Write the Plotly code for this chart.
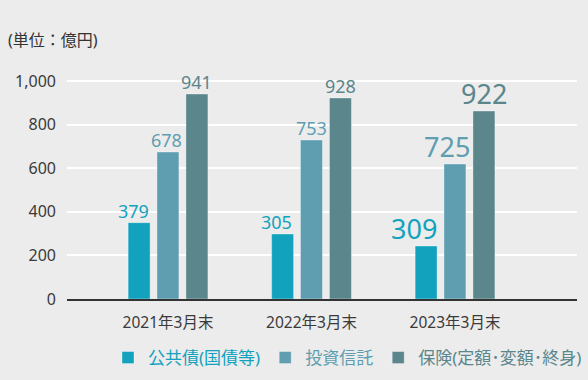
import plotly.graph_objects as go

categories = ["2021年3月末", "2022年3月末", "2023年3月末"]
series_names = ["公共債(国債等)", "投資信託", "保険(定額･変額･終身)"]
# bar heights as drawn in the picture (億円)
bonds_heights = [350, 298, 243]
funds_heights = [674, 729, 619]
insurance_heights = [940, 922, 862]
# value labels as printed
bonds_labels = ["379", "305", "309"]
funds_labels = ["678", "753", "725"]
insurance_labels = ["941", "928", "922"]
y_tick_vals = [0, 200, 400, 600, 800, 1000]
y_tick_text = ["0", "200", "400", "600", "800", "1,000"]

colors = ["#12A2BE", "#5F9EB0", "#5A868C"]
label_sizes = [18, 18, 27]
label_xshift = [[-6, -6, -12], [-1, 0, -8], [0, 0, 0]]
FONT = "Noto Sans, Noto Sans CJK JP, sans-serif"

x_pos = list(range(len(categories)))
heights = [bonds_heights, funds_heights, insurance_heights]
labels = [bonds_labels, funds_labels, insurance_labels]
offsets = [-0.278, -0.077, 0.125]
bar_w = 0.153

fig = go.Figure()
for i in range(3):
    fig.add_trace(go.Bar(
        x=x_pos, y=heights[i], name=f"<span style='color:{colors[i]}'>{series_names[i]}</span>",
        marker=dict(color=colors[i], line=dict(color="rgba(255,255,255,0.35)", width=1)),
        width=bar_w, offset=offsets[i], hoverinfo="skip",
    ))
    for j in x_pos:
        fig.add_annotation(
            x=x_pos[j] + offsets[i] + bar_w / 2, y=heights[i][j], text=labels[i][j],
            xref="x", yref="y", xanchor="center", yanchor="bottom", showarrow=False,
            xshift=label_xshift[i][j], yshift=-2 if label_sizes[j] < 20 else -3,
            font=dict(color=colors[i], size=label_sizes[j], family=FONT),
        )

fig.update_layout(
    width=588, height=380,
    margin=dict(l=67, r=11, t=60, b=81),
    paper_bgcolor="#ECECEC", plot_bgcolor="#ECECEC",
    barmode="overlay",
    font=dict(family=FONT, color="#3A3A3A", size=16),
    title=dict(text="(単位：億円)", x=8/588, xref="container", xanchor="left",
               y=1-40/380, yref="container", yanchor="middle",
               font=dict(size=16, color="#333333", family=FONT)),
    showlegend=True,
    legend=dict(orientation="h", xref="container", yref="container",
                x=108/588, xanchor="left", y=1-358/380, yanchor="middle",
                font=dict(size=17, family=FONT), bgcolor="rgba(0,0,0,0)",
                itemclick=False, traceorder="normal"),
    xaxis=dict(range=[-0.704, 2.85], tickvals=x_pos, ticktext=categories,
               showgrid=False, zeroline=False, showline=True, linecolor="#333333",
               linewidth=1.5, ticks="", ticklabelstandoff=9, automargin=False,
               tickfont=dict(size=15.5, color="#3A3A3A")),
    yaxis=dict(range=[0, 1096], tickvals=y_tick_vals, ticktext=y_tick_text,
               showgrid=True, gridcolor="#FFFFFF", gridwidth=1.5, zeroline=False,
               ticks="", ticklabelstandoff=10, automargin=False,
               tickfont=dict(size=16, color="#3A3A3A")),
)

fig.write_html("out.html", config={"displayModeBar": False},
               post_script="document.body.style.margin='0';document.body.style.overflow='hidden';")
